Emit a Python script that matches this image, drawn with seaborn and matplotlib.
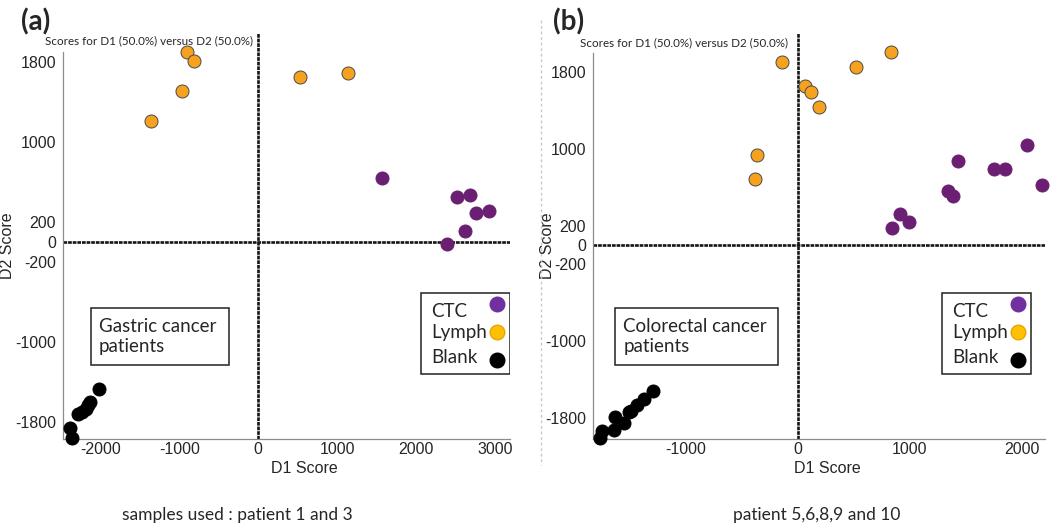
import pandas as pd; import numpy as np; import matplotlib.pyplot as plt; import seaborn as sns
from matplotlib.lines import Line2D
from matplotlib.patches import Rectangle
from matplotlib.ticker import MultipleLocator, FixedLocator

# --- Panel (a): gastric cancer, scores ---
a_ctc_x = [1563, 2516, 2684, 2763, 2929, 2621, 2391]
a_ctc_y = [643, 453, 470, 287, 307, 110, -17]
a_lymph_x = [-900, -821, -971, -1359, 529, 1138]
a_lymph_y = [1900, 1813, 1507, 1207, 1647, 1693]
a_blank_x = [-2021, -2138, -2159, -2188, -2229, -2291, -2388, -2366]
a_blank_y = [-1470, -1597, -1630, -1673, -1697, -1720, -1857, -1963]

# --- Panel (b): colorectal cancer ---
b_ctc_x = [2052, 1430, 1756, 1852, 2184, 1346, 1388, 912, 996, 844]
b_ctc_y = [1036, 876, 793, 793, 620, 561, 509, 319, 242, 180]
b_lymph_x = [-141, 832, 523, 63, 122, 188, -362, -386]
b_lymph_y = [1901, 2002, 1849, 1648, 1586, 1430, 938, 686]
b_blank_x = [-1290, -1377, -1436, -1487, -1508, -1634, -1553, -1643, -1748, -1768]
b_blank_y = [-1520, -1603, -1659, -1728, -1738, -1784, -1849, -1925, -1929, -2008]

groups = ["CTC", "Lymph", "Blank"]
ytick_vals = [1800, 1000, 200, 0, -200, -1000, -1800]
title_txt = "Scores for D1 (50.0%) versus D2 (50.0%)"

def make_df(cx, cy, lx, ly, bx, by):
    return pd.DataFrame({
        "D1": cx + lx + bx, "D2": cy + ly + by,
        "Group": ["CTC"] * len(cx) + ["Lymph"] * len(lx) + ["Blank"] * len(bx)})

df_a = make_df(a_ctc_x, a_ctc_y, a_lymph_x, a_lymph_y, a_blank_x, a_blank_y)
df_b = make_df(b_ctc_x, b_ctc_y, b_lymph_x, b_lymph_y, b_blank_x, b_blank_y)

sns.set_style("white")
plt.rcParams["font.family"] = ["Liberation Sans", "DejaVu Sans"]
plt.rcParams["axes.unicode_minus"] = False
TXT = ["Lato", "DejaVu Sans"]

dot_pal = {"CTC": "#6a1f72", "Lymph": "#f6a21e", "Blank": "#000000"}
leg_pal = {"CTC": ("#7030a0", "#7030a0"), "Lymph": ("#ffc000", "#e8a400"), "Blank": ("#000000", "#000000")}

FW, FH = 1054, 529
fig = plt.figure(figsize=(FW/100, FH/100), dpi=100)
ax_a = fig.add_axes([63/FW, 1-439/FH, 447/FW, 387/FH])
ax_b = fig.add_axes([593/FW, 1-439/FH, 452/FW, 386/FH])

def px(ax, dx, dy):
    # pixel offsets -> axes fraction
    w = ax.get_position().width * FW; h = ax.get_position().height * FH
    return dx / w, dy / h

def draw_panel(ax, df, xlim, ylim, line_top, box_x, box_w, box_txt, leg_right, ylab_x, xlab_x):
    zl = dict(color="#151515", lw=1.9, ls=(0, (1.4, 0.35)), zorder=1)
    ax.axhline(0, **zl)
    ax.plot([0, 0], [ylim[0], line_top], clip_on=False, **zl)
    for g in groups:
        sub = df[df["Group"] == g]
        sns.scatterplot(data=sub, x="D1", y="D2", color=dot_pal[g], s=88,
                        edgecolor="#4a4a4a" if g == "Lymph" else dot_pal[g],
                        linewidth=0.7, ax=ax, clip_on=False, zorder=3, legend=False)
    ax.set_xlim(*xlim); ax.set_ylim(*ylim)
    for side in ["top", "right"]:
        ax.spines[side].set_visible(False)
    for side in ["left", "bottom"]:
        ax.spines[side].set_color("#8c8c8c"); ax.spines[side].set_linewidth(0.9)
    ax.xaxis.set_major_locator(MultipleLocator(1000))
    ax.xaxis.set_minor_locator(MultipleLocator(500))
    ax.yaxis.set_major_locator(FixedLocator(ytick_vals))
    ax.yaxis.set_minor_locator(MultipleLocator(200))
    ax.tick_params(which="both", direction="out", color="#8c8c8c", labelsize=11.5, pad=2)
    ax.tick_params(which="major", length=3, width=0.8)
    ax.tick_params(which="minor", length=2, width=0.6)
    ax.tick_params(axis="x", which="both", direction="in")
    ax.set_xlabel("D1 Score", fontsize=11.5)
    ax.set_ylabel("D2 Score", fontsize=11.5)
    ax.xaxis.set_label_coords(xlab_x, -0.058)
    ax.yaxis.set_label_coords(ylab_x, 0.5)
    # annotation box
    ax.add_patch(Rectangle((box_x, 0.191), box_w, 0.1475, transform=ax.transAxes,
                           fill=False, edgecolor="#222222", lw=1.1, zorder=4))
    ax.text(box_x + 0.018, 0.265, box_txt, transform=ax.transAxes, family=TXT,
            fontsize=13.5, va="center", ha="left", linespacing=1.2)
    # legend box: text left, dot right
    bw, bh = px(ax, 89, 81)
    top = 0.377
    left = leg_right - bw
    ax.add_patch(Rectangle((left, top - bh), bw, bh, transform=ax.transAxes,
                           facecolor="white", edgecolor="#222222", lw=1.1, zorder=5))
    tx, _ = px(ax, 10, 0)
    mx, _ = px(ax, 13, 0)
    text_dy = [18, 39, 64]
    mark_dy = [11, 39, 67]
    for g, tdy, mdy in zip(groups, text_dy, mark_dy):
        ax.text(left + tx, top - px(ax, 0, tdy)[1], g, transform=ax.transAxes, family=TXT,
                fontsize=13.5, va="center", ha="left", zorder=6)
        ax.add_artist(Line2D([leg_right - mx], [top - px(ax, 0, mdy)[1]], transform=ax.transAxes,
                             ls="", marker="o", markersize=10.5, markerfacecolor=leg_pal[g][0],
                             markeredgecolor=leg_pal[g][1], zorder=6))

draw_panel(ax_a, df_a, (-2475, 3190), (-1970, 1900), 2090, 0.0626, 0.309,
           "Gastric cancer\npatients", 1.0, -0.107, 0.54)
draw_panel(ax_b, df_b, (-1830, 2210), (-2016, 1995), 2200, 0.0487, 0.36,
           "Colorectal cancer\npatients", 0.969, -0.085, 0.518)

fig.text(45/FW, 1-41/FH, title_txt, family=TXT, fontsize=8.4, va="center", ha="left")
fig.text(580/FW, 1-43/FH, title_txt, family=TXT, fontsize=8.4, va="center", ha="left")
fig.text(21/FW, 1-22/FH, "(a)", family=TXT, fontsize=20, fontweight="bold", va="center")
fig.text(553/FW, 1-22/FH, "(b)", family=TXT, fontsize=20, fontweight="bold", va="center")
fig.text(237/FW, 1-515/FH, "samples used : patient 1 and 3", family=TXT, fontsize=12.5,
         ha="center", va="center")
fig.text(817/FW, 1-515/FH, "patient 5,6,8,9 and 10", family=TXT, fontsize=12.5,
         ha="center", va="center")
fig.add_artist(Line2D([541/FW, 541/FW], [1-20/FH, 1-465/FH], transform=fig.transFigure,
                      color="#c8c8c8", lw=1, ls=(0, (2, 2))))

fig.savefig("out.png", dpi=100)
